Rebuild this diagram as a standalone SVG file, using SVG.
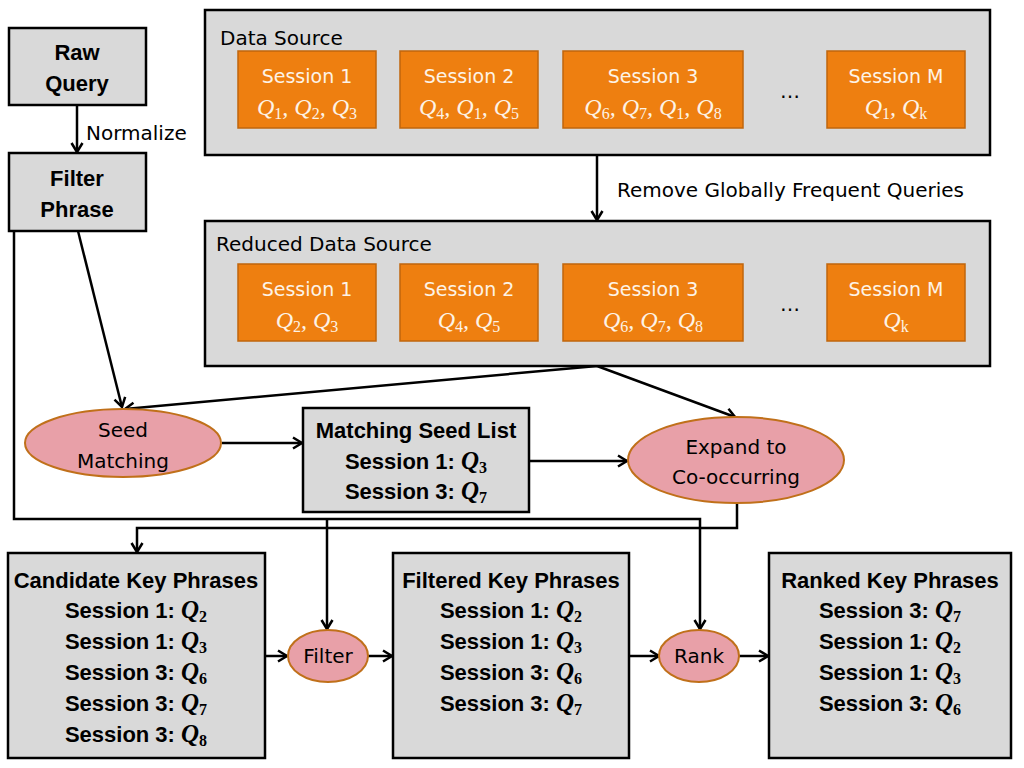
<svg xmlns="http://www.w3.org/2000/svg" width="1024" height="768" viewBox="0 0 1024 768">
<style>
.box{fill:#d9d9d9;stroke:#000;stroke-width:2.5}
.org{fill:#ee7f10;stroke:#c0660c;stroke-width:1.5}
.ell{fill:#e8a0a8;stroke:#c0701a;stroke-width:2}
.t{font-family:"DejaVu Sans",Verdana,sans-serif;font-size:20px;fill:#000}
.b{font-family:"Liberation Sans",Arial,sans-serif;font-size:22px;font-weight:bold;fill:#000;text-anchor:middle}
.ot{font-family:"DejaVu Sans",Verdana,sans-serif;font-size:19px;fill:#fdf3e6;text-anchor:middle}
.oq{font-family:"Liberation Serif","Times New Roman",serif;font-size:24px;font-style:italic;fill:#fdf3e6;text-anchor:middle}
.q{font-family:"Liberation Serif","Times New Roman",serif;font-style:italic;font-weight:bold;font-size:25px}
.s{font-size:16px;font-style:normal}
.c{text-anchor:middle}
.ln{fill:none;stroke:#000;stroke-width:2.5}
</style>
<defs>
<marker id="ar" markerWidth="14" markerHeight="14" refX="11" refY="7" orient="auto" markerUnits="userSpaceOnUse">
<path d="M2,1.5 L11,7 L2,12.5" fill="none" stroke="#000" stroke-width="2.5"/>
</marker>
</defs>

<g id="connectors">
<line class="ln" x1="77" y1="105" x2="77" y2="152" marker-end="url(#ar)"/>
<line class="ln" x1="597" y1="155" x2="597" y2="220" marker-end="url(#ar)"/>
<line class="ln" x1="78" y1="231" x2="122" y2="407" marker-end="url(#ar)"/>
<line class="ln" x1="597" y1="366" x2="125" y2="409" marker-end="url(#ar)"/>
<line class="ln" x1="597" y1="366" x2="735" y2="417" marker-end="url(#ar)"/>
<line class="ln" x1="222" y1="443" x2="302" y2="443" marker-end="url(#ar)"/>
<line class="ln" x1="529" y1="461" x2="627" y2="461" marker-end="url(#ar)"/>
<polyline class="ln" points="14,231 14,519 700,519 700,629" marker-end="url(#ar)"/>
<line class="ln" x1="327" y1="519" x2="327" y2="629" marker-end="url(#ar)"/>
<polyline class="ln" points="737,504 737,528 137,528 137,552" marker-end="url(#ar)"/>
<line class="ln" x1="265" y1="656" x2="287" y2="656" marker-end="url(#ar)"/>
<line class="ln" x1="367" y1="656" x2="392" y2="656" marker-end="url(#ar)"/>
<line class="ln" x1="629" y1="656" x2="659" y2="656" marker-end="url(#ar)"/>
<line class="ln" x1="739" y1="656" x2="768" y2="656" marker-end="url(#ar)"/>
<text class="t" x="86" y="140">Normalize</text>
<text class="t" x="617" y="197">Remove Globally Frequent Queries</text>
</g>

<g id="raw-query">
<rect class="box" x="9" y="28" width="137" height="77"/>
<text class="b" x="77" y="60">Raw</text>
<text class="b" x="77" y="91">Query</text>
</g>

<g id="filter-phrase">
<rect class="box" x="9" y="153" width="137" height="78"/>
<text class="b" x="77" y="186">Filter</text>
<text class="b" x="77" y="217">Phrase</text>
</g>

<g id="data-source">
<rect class="box" x="205" y="10" width="785" height="145"/>
<text class="t" x="220" y="45">Data Source</text>
<rect class="org" x="238" y="51" width="138" height="77"/>
<text class="ot" x="307" y="83">Session 1</text>
<text class="oq" x="307" y="115">Q<tspan class="s" dy="4">1</tspan><tspan dy="-4">, Q</tspan><tspan class="s" dy="4">2</tspan><tspan dy="-4">, Q</tspan><tspan class="s" dy="4">3</tspan></text>
<rect class="org" x="400" y="51" width="138" height="77"/>
<text class="ot" x="469" y="83">Session 2</text>
<text class="oq" x="469" y="115">Q<tspan class="s" dy="4">4</tspan><tspan dy="-4">, Q</tspan><tspan class="s" dy="4">1</tspan><tspan dy="-4">, Q</tspan><tspan class="s" dy="4">5</tspan></text>
<rect class="org" x="563" y="51" width="180" height="77"/>
<text class="ot" x="653" y="83">Session 3</text>
<text class="oq" x="653" y="115">Q<tspan class="s" dy="4">6</tspan><tspan dy="-4">, Q</tspan><tspan class="s" dy="4">7</tspan><tspan dy="-4">, Q</tspan><tspan class="s" dy="4">1</tspan><tspan dy="-4">, Q</tspan><tspan class="s" dy="4">8</tspan></text>
<text class="t c" x="790" y="98">…</text>
<rect class="org" x="827" y="51" width="138" height="77"/>
<text class="ot" x="896" y="83">Session M</text>
<text class="oq" x="896" y="115">Q<tspan class="s" dy="4">1</tspan><tspan dy="-4">, Q</tspan><tspan class="s" dy="4">k</tspan></text>
</g>

<g id="reduced-data-source">
<rect class="box" x="205" y="221" width="785" height="145"/>
<text class="t" x="216" y="251">Reduced Data Source</text>
<rect class="org" x="238" y="264" width="138" height="77"/>
<text class="ot" x="307" y="296">Session 1</text>
<text class="oq" x="307" y="328">Q<tspan class="s" dy="4">2</tspan><tspan dy="-4">, Q</tspan><tspan class="s" dy="4">3</tspan></text>
<rect class="org" x="400" y="264" width="138" height="77"/>
<text class="ot" x="469" y="296">Session 2</text>
<text class="oq" x="469" y="328">Q<tspan class="s" dy="4">4</tspan><tspan dy="-4">, Q</tspan><tspan class="s" dy="4">5</tspan></text>
<rect class="org" x="563" y="264" width="180" height="77"/>
<text class="ot" x="653" y="296">Session 3</text>
<text class="oq" x="653" y="328">Q<tspan class="s" dy="4">6</tspan><tspan dy="-4">, Q</tspan><tspan class="s" dy="4">7</tspan><tspan dy="-4">, Q</tspan><tspan class="s" dy="4">8</tspan></text>
<text class="t c" x="790" y="311">…</text>
<rect class="org" x="827" y="264" width="138" height="77"/>
<text class="ot" x="896" y="296">Session M</text>
<text class="oq" x="896" y="328">Q<tspan class="s" dy="4">k</tspan></text>
</g>

<g id="seed-matching">
<ellipse class="ell" cx="123" cy="443" rx="98" ry="34"/>
<text class="t c" x="123" y="437">Seed</text>
<text class="t c" x="123" y="468">Matching</text>
</g>

<g id="matching-seed-list">
<rect class="box" x="303" y="408" width="226" height="104"/>
<text class="b" x="416" y="438">Matching Seed List</text>
<text class="b" x="416" y="469">Session 1: <tspan class="q">Q</tspan><tspan class="q s" dy="4">3</tspan></text>
<text class="b" x="416" y="499">Session 3: <tspan class="q">Q</tspan><tspan class="q s" dy="4">7</tspan></text>
</g>

<g id="expand">
<ellipse class="ell" cx="736" cy="460" rx="108" ry="43"/>
<text class="t c" x="736" y="454">Expand to</text>
<text class="t c" x="736" y="484">Co-occurring</text>
</g>

<g id="candidate-key-phrases">
<rect class="box" x="8" y="553" width="257" height="205"/>
<text class="b" x="136" y="588">Candidate Key Phrases</text>
<text class="b" x="136" y="618">Session 1: <tspan class="q">Q</tspan><tspan class="q s" dy="4">2</tspan></text>
<text class="b" x="136" y="649">Session 1: <tspan class="q">Q</tspan><tspan class="q s" dy="4">3</tspan></text>
<text class="b" x="136" y="680">Session 3: <tspan class="q">Q</tspan><tspan class="q s" dy="4">6</tspan></text>
<text class="b" x="136" y="711">Session 3: <tspan class="q">Q</tspan><tspan class="q s" dy="4">7</tspan></text>
<text class="b" x="136" y="742">Session 3: <tspan class="q">Q</tspan><tspan class="q s" dy="4">8</tspan></text>
</g>

<g id="filter">
<ellipse class="ell" cx="328" cy="656" rx="40" ry="26"/>
<text class="t c" x="328" y="663">Filter</text>
</g>

<g id="filtered-key-phrases">
<rect class="box" x="393" y="553" width="236" height="205"/>
<text class="b" x="511" y="588">Filtered Key Phrases</text>
<text class="b" x="511" y="618">Session 1: <tspan class="q">Q</tspan><tspan class="q s" dy="4">2</tspan></text>
<text class="b" x="511" y="649">Session 1: <tspan class="q">Q</tspan><tspan class="q s" dy="4">3</tspan></text>
<text class="b" x="511" y="680">Session 3: <tspan class="q">Q</tspan><tspan class="q s" dy="4">6</tspan></text>
<text class="b" x="511" y="711">Session 3: <tspan class="q">Q</tspan><tspan class="q s" dy="4">7</tspan></text>
</g>

<g id="rank">
<ellipse class="ell" cx="699" cy="656" rx="40" ry="26"/>
<text class="t c" x="699" y="663">Rank</text>
</g>

<g id="ranked-key-phrases">
<rect class="box" x="769" y="553" width="242" height="205"/>
<text class="b" x="890" y="588">Ranked Key Phrases</text>
<text class="b" x="890" y="618">Session 3: <tspan class="q">Q</tspan><tspan class="q s" dy="4">7</tspan></text>
<text class="b" x="890" y="649">Session 1: <tspan class="q">Q</tspan><tspan class="q s" dy="4">2</tspan></text>
<text class="b" x="890" y="680">Session 1: <tspan class="q">Q</tspan><tspan class="q s" dy="4">3</tspan></text>
<text class="b" x="890" y="711">Session 3: <tspan class="q">Q</tspan><tspan class="q s" dy="4">6</tspan></text>
</g>
</svg>
